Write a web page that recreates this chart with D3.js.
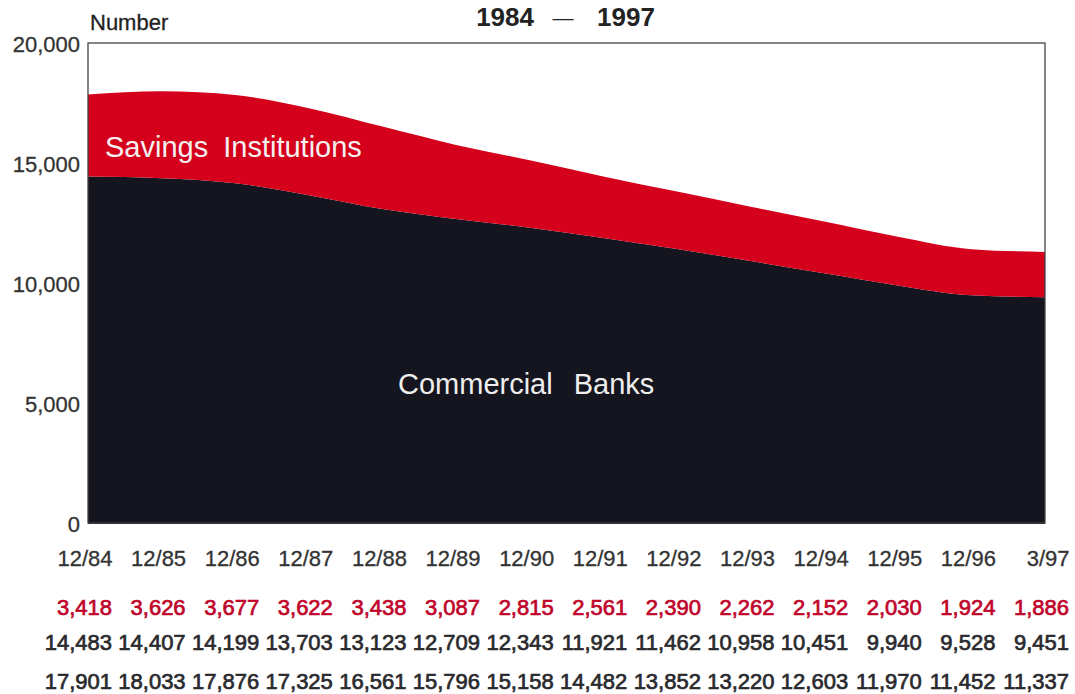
<!DOCTYPE html>
<html><head><meta charset="utf-8">
<script src="https://cdn.jsdelivr.net/npm/d3@7"></script>
<style>
html,body{margin:0;padding:0;background:#fff;}
svg{display:block;font-family:"Liberation Sans",Arial,Helvetica,sans-serif;}
</style></head>
<body>
<svg id="chart" width="1075" height="694"></svg>
<script>
const periods = ["12/84","12/85","12/86","12/87","12/88","12/89","12/90","12/91","12/92","12/93","12/94","12/95","12/96","3/97"];
const savings = [3418,3626,3677,3622,3438,3087,2815,2561,2390,2262,2152,2030,1924,1886];
const commercial = [14483,14407,14199,13703,13123,12709,12343,11921,11462,10958,10451,9940,9528,9451];
const totals = [17901,18033,17876,17325,16561,15796,15158,14482,13852,13220,12603,11970,11452,11337];
const yTicks = [0,5000,10000,15000,20000];

const svg = d3.select("#chart");
const plotLeft = 88, plotRight = 1045, plotTop = 44, plotBottom = 524;

const x = d3.scalePoint().domain(periods).range([plotLeft, plotRight]);
const y = d3.scaleLinear().domain([0, 20000]).range([plotBottom, plotTop]);

const rows = periods.map((p, i) => ({period: p, commercial: commercial[i], savings: savings[i]}));
const stacked = d3.stack().keys(["commercial", "savings"])(rows);
const colors = {commercial: "#15151f", savings: "#d4001c"};

const area = d3.area()
  .x(d => x(d.data.period))
  .y0(d => y(d[0]))
  .y1(d => y(d[1]))
  .curve(d3.curveMonotoneX);

svg.append("g").selectAll("path").data(stacked).join("path")
  .attr("d", area)
  .attr("fill", d => colors[d.key]);

// frame
svg.append("rect")
  .attr("x", plotLeft).attr("y", y(20000) - 1)
  .attr("width", plotRight - plotLeft).attr("height", plotBottom - y(20000))
  .attr("fill", "none").attr("stroke", "#444").attr("stroke-width", 1.3);

// y axis labels
const yAxis = d3.axisLeft(y).tickValues(yTicks).tickFormat(d3.format(",")).tickSize(0).tickPadding(8);
const gy = svg.append("g").attr("transform", `translate(${plotLeft},0)`).call(yAxis);
gy.select(".domain").remove();
gy.selectAll("text")
  .attr("font-size", 22).attr("fill", "#333")
  .attr("stroke", "#333").attr("stroke-width", 0.3)
  .attr("font-family", "Liberation Sans, Arial, sans-serif")
  .attr("dy", "0.36em");

// axis title
svg.append("text").attr("x", 90).attr("y", 30)
  .attr("font-size", 22).attr("fill", "#222")
  .attr("stroke", "#222").attr("stroke-width", 0.3).text("Number");

// title
svg.append("text").attr("x", 534).attr("y", 26).attr("text-anchor", "end")
  .attr("font-size", 26).attr("font-weight", "bold").attr("fill", "#222").text("1984");
svg.append("text").attr("x", 563).attr("y", 25).attr("text-anchor", "middle")
  .attr("font-size", 21).attr("fill", "#222").text("\u2014");
svg.append("text").attr("x", 597).attr("y", 26).attr("text-anchor", "start")
  .attr("font-size", 26).attr("font-weight", "bold").attr("fill", "#222").text("1997");

// series labels
svg.append("text").attr("x", 105).attr("y", 157)
  .attr("font-size", 29).attr("word-spacing", 7).attr("fill", "#f4f0f0")
  .text("Savings Institutions");
svg.append("text").attr("x", 398).attr("y", 394)
  .attr("font-size", 29).attr("word-spacing", 13).attr("fill", "#eeeeee")
  .text("Commercial Banks");

// x axis labels
const xAxis = d3.axisBottom(x).tickSize(0).tickPadding(0);
const gx = svg.append("g").attr("transform", `translate(24,0)`).call(xAxis);
gx.select(".domain").remove();
gx.selectAll("text")
  .attr("font-size", 22).attr("fill", "#333")
  .attr("stroke", "#333").attr("stroke-width", 0.3)
  .attr("font-family", "Liberation Sans, Arial, sans-serif")
  .attr("text-anchor", "end").attr("y", 566).attr("dy", null);

// number table
const fmt = d3.format(",");
const tableRows = [
  {vals: savings, y: 615, color: "#c0042a"},
  {vals: commercial, y: 650, color: "#2a2a2e"},
  {vals: totals, y: 689, color: "#2a2a2e"}
];
tableRows.forEach(r => {
  svg.append("g").selectAll("text").data(r.vals).join("text")
    .attr("x", (d, i) => x(periods[i]) + 24)
    .attr("y", r.y)
    .attr("text-anchor", "end")
    .attr("font-size", 22)
    .attr("fill", r.color)
    .attr("stroke", r.color).attr("stroke-width", 0.7)
    .text(d => fmt(d));
});
</script>
</body></html>
